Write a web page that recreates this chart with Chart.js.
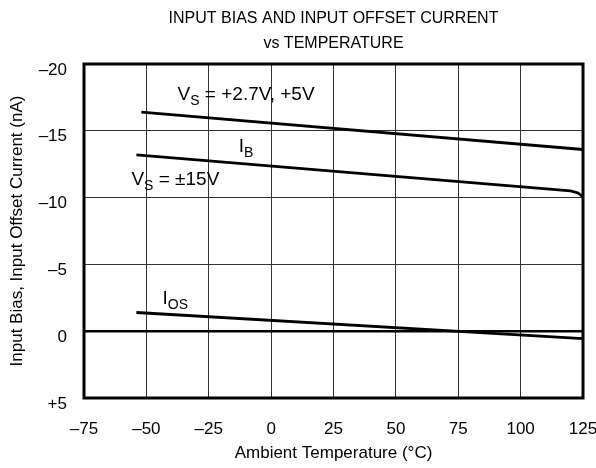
<!DOCTYPE html>
<html>
<head>
<meta charset="utf-8">
<script src="https://cdn.jsdelivr.net/npm/chart.js@4.4.1/dist/chart.umd.min.js"></script>
<style>
  html, body { margin: 0; padding: 0; background: #fff; }
  #wrap { width: 596px; height: 468px; }
</style>
</head>
<body>
<div id="wrap"><canvas id="chart" width="596" height="468"></canvas></div>
<script>
// temperatures (deg C) and currents (nA)
var tempLow = [-52, 125];
var ibLow = [-16.4, -13.6];           // VS = +2.7V, +5V
var tempHigh = [-54, 120, 123, 125];
var ibHigh = [-13.2, -10.5, -10.35, -10.05];  // VS = ±15V
var tempOs = [-54, 125];
var ios = [-1.4, 0.55];

var xTicks = [-75, -50, -25, 0, 25, 50, 75, 100, 125];
var yTicks = [-20, -15, -10, -5, 0, 5];
var yTickLabels = ['\u201320', '\u201315', '\u201310', '\u20135', '0', '+5'];

// text labels: [main, sub, rest, x, y]
var labels = [
  ['V', 'S', ' = +2.7V, +5V', -37.5, -17.7],
  ['I', 'B', '', -13, -13.8],
  ['V', 'S', ' = \u00b115V', -56, -11.3],
  ['I', 'OS', '', -43.5, -2.4]
];

function pts(xs, ys) {
  return xs.map(function (x, i) { return { x: x, y: ys[i] }; });
}

var FONT = '"Liberation Sans", Arial, sans-serif';

var decor = {
  id: 'decor',
  afterDatasetsDraw: function (chart) {
    var ctx = chart.ctx, a = chart.chartArea;
    var xs = chart.scales.x, ys = chart.scales.y;
    ctx.save();
    // zero line
    ctx.strokeStyle = '#000';
    ctx.lineWidth = 2.5;
    ctx.beginPath();
    ctx.moveTo(a.left, ys.getPixelForValue(0));
    ctx.lineTo(a.right, ys.getPixelForValue(0));
    ctx.stroke();
    // frame
    ctx.lineWidth = 3;
    ctx.strokeRect(a.left, a.top, a.right - a.left, a.bottom - a.top);
    // labels
    ctx.fillStyle = '#000';
    ctx.textBaseline = 'middle';
    labels.forEach(function (l) {
      var px = xs.getPixelForValue(l[3]), py = ys.getPixelForValue(l[4]);
      ctx.font = '19px ' + FONT;
      ctx.fillText(l[0], px, py);
      px += ctx.measureText(l[0]).width;
      ctx.font = '14px ' + FONT;
      ctx.fillText(l[1], px, py + 6);
      px += ctx.measureText(l[1]).width;
      ctx.font = '19px ' + FONT;
      ctx.fillText(l[2], px, py);
    });
    // title
    ctx.textAlign = 'center';
    ctx.font = '16px ' + FONT;
    var cx = (a.left + a.right) / 2;
    ctx.fillText('INPUT BIAS AND INPUT OFFSET CURRENT', cx, 19);
    ctx.fillText('vs TEMPERATURE', cx, 44);
    ctx.restore();
  }
};

var lineStyle = { borderColor: '#000', borderWidth: 2.8, pointRadius: 0, fill: false, tension: 0 };

new Chart(document.getElementById('chart'), {
  type: 'line',
  data: {
    datasets: [
      Object.assign({ data: pts(tempLow, ibLow) }, lineStyle),
      Object.assign({ data: pts(tempHigh, ibHigh) }, lineStyle),
      Object.assign({ data: pts(tempOs, ios) }, lineStyle)
    ]
  },
  options: {
    responsive: false,
    animation: false,
    layout: { padding: { top: 64, right: 13, left: 0, bottom: 0 } },
    plugins: { legend: { display: false }, tooltip: { enabled: false } },
    scales: {
      x: {
        type: 'linear', min: -75, max: 125,
        afterBuildTicks: function (s) { s.ticks = xTicks.map(function (v) { return { value: v }; }); },
        afterFit: function (s) { s.height = 70; s.paddingLeft = 0; s.paddingRight = 0; },
        grid: { color: '#333', lineWidth: 1, drawTicks: false },
        border: { display: false },
        ticks: { color: '#000', font: { size: 17, family: FONT }, padding: 21, maxRotation: 0,
          callback: function (v) { return v < 0 ? '\u2013' + Math.abs(v) : String(v); } },
        title: { display: true, text: 'Ambient Temperature (\u00b0C)', color: '#000',
          font: { size: 17, family: FONT }, padding: { top: 4 } }
      },
      y: {
        type: 'linear', min: -20, max: 5, reverse: true,
        afterBuildTicks: function (s) { s.ticks = yTicks.map(function (v) { return { value: v }; }); },
        afterFit: function (s) { s.width = 84; s.paddingTop = 0; s.paddingBottom = 0; },
        grid: { color: '#333', lineWidth: 1, drawTicks: false },
        border: { display: false },
        ticks: { color: '#000', font: { size: 17, family: FONT }, padding: 17, labelOffset: 6,
          callback: function (v) { return yTickLabels[yTicks.indexOf(v)]; } },
        title: { display: true, text: 'Input Bias, Input Offset Current (nA)', color: '#000',
          font: { size: 17, family: FONT }, padding: { top: 7, bottom: 0 } }
      }
    }
  },
  plugins: [decor]
});
</script>
</body>
</html>
